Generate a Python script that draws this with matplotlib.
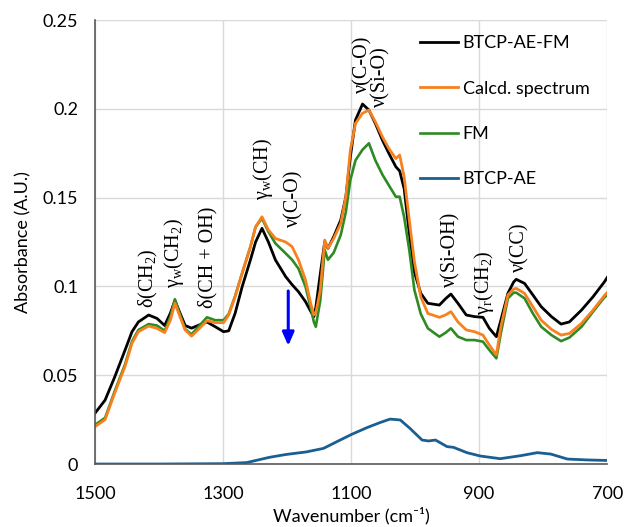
import matplotlib
matplotlib.use('Agg')
import matplotlib.pyplot as plt

plt.rcParams['font.family'] = ['Lato', 'DejaVu Sans']
plt.rcParams['mathtext.fontset'] = 'custom'
plt.rcParams['mathtext.rm'] = 'Liberation Serif'
plt.rcParams['mathtext.it'] = 'Liberation Serif:italic'

# wavenumber grid shared by the three spectra (cm-1)
wn = [1500, 1484, 1469, 1453, 1442, 1432, 1416, 1403, 1391, 1382, 1375, 1367,
      1359, 1349, 1339, 1325, 1312, 1299, 1291, 1281, 1270, 1257, 1249, 1239,
      1229, 1218, 1202, 1192, 1182, 1171, 1163, 1158, 1155, 1148, 1141, 1136,
      1127, 1116, 1108, 1101, 1093, 1082, 1072, 1062, 1051, 1041, 1030, 1024,
      1017, 1009, 1001, 991, 980, 962, 952, 944, 933, 920, 907, 894, 884, 873,
      866, 855, 846, 842, 829, 816, 803, 787, 772, 759, 740, 722, 704, 700]

btcp_ae_fm = [0.0285, 0.036, 0.049, 0.064, 0.0745, 0.080, 0.0839, 0.082, 0.078, 0.085, 0.092, 0.085,
              0.078, 0.0765, 0.078, 0.080, 0.0773, 0.0745, 0.075, 0.0848, 0.0998, 0.115, 0.125, 0.1327,
              0.125, 0.1149, 0.1055, 0.101, 0.097, 0.0914, 0.086, 0.083, 0.088, 0.107, 0.1252, 0.1214,
              0.128, 0.1374, 0.1505, 0.173, 0.1937, 0.2027, 0.1993, 0.1918, 0.1824, 0.175, 0.1674, 0.165,
              0.155, 0.130, 0.108, 0.0961, 0.0905, 0.0895, 0.0932, 0.0957, 0.0905, 0.0839, 0.083, 0.0826, 0.0764, 0.0717,
              0.081, 0.0961, 0.1025, 0.104, 0.1017, 0.0952, 0.0886, 0.083, 0.0788, 0.080, 0.0867, 0.0942, 0.1027, 0.105]

calcd = [0.021, 0.025, 0.040, 0.0548, 0.068, 0.0745, 0.0777, 0.0764, 0.074, 0.081, 0.0905, 0.083,
         0.0755, 0.072, 0.0755, 0.0807, 0.0796, 0.0796, 0.0839, 0.0942, 0.1074, 0.1224, 0.1336, 0.1392,
         0.1318, 0.127, 0.125, 0.1224, 0.1149, 0.1036, 0.0905, 0.084, 0.085, 0.098, 0.1261, 0.1214,
         0.127, 0.1355, 0.1505, 0.1768, 0.1918, 0.1975, 0.1993, 0.1927, 0.1843, 0.1777, 0.172, 0.174,
         0.1617, 0.1374, 0.114, 0.094, 0.0848, 0.0826, 0.084, 0.0858, 0.080, 0.0755, 0.0745, 0.0726, 0.067, 0.0614,
         0.0773, 0.0952, 0.0985, 0.0989, 0.0961, 0.0886, 0.081, 0.0758, 0.0726, 0.0735, 0.0792, 0.0867, 0.095, 0.0965]

fm = [0.022, 0.026, 0.041, 0.056, 0.069, 0.0755, 0.0788, 0.078, 0.075, 0.083, 0.0928, 0.084,
      0.076, 0.073, 0.077, 0.0826, 0.081, 0.081, 0.0845, 0.0945, 0.1075, 0.1224, 0.1335, 0.1383,
      0.1308, 0.1242, 0.1186, 0.115, 0.110, 0.0998, 0.088, 0.080, 0.0773, 0.092, 0.1205, 0.115,
      0.119, 0.129, 0.142, 0.160, 0.171, 0.177, 0.1806, 0.171, 0.163, 0.157, 0.1505, 0.1505,
      0.139, 0.1205, 0.098, 0.0845, 0.0764, 0.0717, 0.074, 0.0764, 0.0717, 0.0698, 0.0698, 0.0689, 0.0642, 0.0595,
      0.0736, 0.0933, 0.0965, 0.0965, 0.0933, 0.0848, 0.0773, 0.0726, 0.0692, 0.0712, 0.0773, 0.0858, 0.094, 0.095]

# BTCP-AE read on its own grid
wn_ae = [1500, 1400, 1300, 1263, 1227, 1201, 1170, 1143, 1122, 1099, 1075, 1055, 1039, 1023,
         1008, 989, 979, 968, 950, 940, 919, 898, 867, 835, 809, 788, 762, 731, 700]
btcp_ae = [0.0, 0.0, 0.0002, 0.0008, 0.0038, 0.0054, 0.0068, 0.0088, 0.0126, 0.0167, 0.0205, 0.0233, 0.0253, 0.0248,
           0.0201, 0.0135, 0.013, 0.0135, 0.0098, 0.0094, 0.0064, 0.0045, 0.003, 0.0047, 0.0064, 0.0056, 0.0028, 0.0023, 0.002]

# band assignments: (label, wavenumber, absorbance of text bottom)
bands = [
    ('δ(CH$_2$)', 1417, 0.088),
    ('γ$_\\mathrm{w}$(CH$_2$)', 1377, 0.099),
    ('δ(CH + OH)', 1323, 0.088),
    ('γ$_\\mathrm{w}$(CH)', 1238, 0.1486),
    ('ν(C-O)', 1190, 0.1334),
    ('ν(C-O)', 1081, 0.209),
    ('ν(Si-O)', 1053, 0.201),
    ('ν(Si-OH)', 944, 0.0997),
    ('γ$_\\mathrm{r}$(CH$_2$)', 892, 0.084),
    ('ν(CC)', 836, 0.108),
]

fig = plt.figure(figsize=(6.24, 5.27), dpi=100)
ax = fig.add_axes([0.152, 0.1195, 0.821, 0.8425])

l1, = ax.plot(wn, btcp_ae_fm, color='black', lw=2.0, label='BTCP-AE-FM', zorder=3)
l3, = ax.plot(wn, fm, color='#2e8b23', lw=1.9, label='FM', zorder=4)
l2, = ax.plot(wn, calcd, color='#f7811e', lw=2.0, label='Calcd. spectrum', zorder=5)
l4, = ax.plot(wn_ae, btcp_ae, color='#1b5e91', lw=2.0, label='BTCP-AE', zorder=6)

ax.set_xlim(1500, 700)
ax.set_ylim(0, 0.25)
ax.set_xticks([1500, 1300, 1100, 900, 700])
ax.set_yticks([0, 0.05, 0.1, 0.15, 0.2, 0.25])
ax.set_yticklabels(['0', '0.05', '0.1', '0.15', '0.2', '0.25'])
ax.tick_params(length=0, labelsize=13, colors='black')
ax.tick_params(axis='y', pad=12)
ax.tick_params(axis='x', pad=16)
ax.grid(True, color='#d9d9d9', lw=1.0)
ax.set_axisbelow(True)
for s in ['top', 'right']:
    ax.spines[s].set_visible(False)
for s in ['left', 'bottom']:
    ax.spines[s].set_color('#595959')
    ax.spines[s].set_linewidth(1.2)
    ax.spines[s].set_zorder(7)

ax.set_xlabel('Wavenumber (cm⁻¹)', fontsize=13, labelpad=3)
ax.set_ylabel('Absorbance (A.U.)', fontsize=13, labelpad=8)

for txt, x, y in bands:
    ax.text(x, y, txt, rotation=90, ha='center', va='bottom', fontsize=14.5,
            family=['Liberation Serif', 'DejaVu Serif'], zorder=8)

# arrow marking the drop of the C-O band
ax.annotate('', xy=(1198, 0.065), xytext=(1198, 0.099),
            arrowprops=dict(arrowstyle='-|>,head_width=0.35,head_length=0.8',
                            color='#0000ff', lw=2.2), zorder=8)

ax.legend(handles=[l1, l2, l3, l4], loc='upper left', bbox_to_anchor=(0.605, 1.0),
          frameon=False, fontsize=13, handlelength=2.1, handletextpad=0.25,
          labelspacing=1.62, borderaxespad=0.45)

fig.savefig('out.png', dpi=100)
